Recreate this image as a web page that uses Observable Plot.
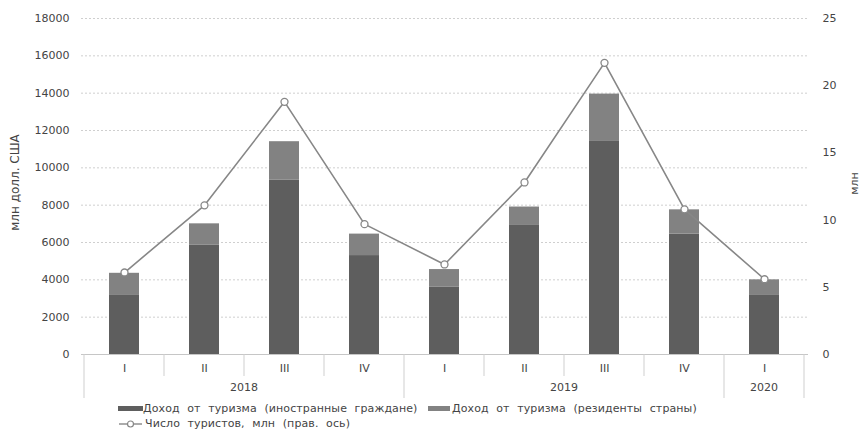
<!DOCTYPE html>
<html>
<head>
<meta charset="utf-8">
<script src="https://cdn.jsdelivr.net/npm/d3@7"></script>
<script src="https://cdn.jsdelivr.net/npm/@observablehq/plot@0.6"></script>
<style>
  body { margin: 0; background: #fff; }
  #chart { position: relative; width: 865px; height: 432px; font-family: "DejaVu Sans", sans-serif; color: #444; }
  .item { position: absolute; font-size: 11px; line-height: 14px; letter-spacing: 0.1px; word-spacing: 4px; white-space: nowrap; }
  .sw { position: absolute; }
</style>
</head>
<body>
<div id="chart"></div>
<script>
// Quarterly tourism income (USD mln) and tourist arrivals (mln)
const years = ["2018", "2018", "2018", "2018", "2019", "2019", "2019", "2019", "2020"];
const quarters = ["I", "II", "III", "IV", "I", "II", "III", "IV", "I"];
const foreignIncome = [3200, 5850, 9350, 5300, 3600, 6950, 11450, 6450, 3200];
const residentIncome = [1150, 1150, 2050, 1150, 950, 950, 2500, 1300, 800];
const tourists = [6.1, 11.1, 18.8, 9.7, 6.7, 12.8, 21.7, 10.8, 5.6];

const leftTicks = [0, 2000, 4000, 6000, 8000, 10000, 12000, 14000, 16000, 18000];
const rightTicks = [0, 5, 10, 15, 20, 25];

const seriesNames = ["Доход от туризма (иностранные граждане)", "Доход от туризма (резиденты страны)"];
const lineName = "Число туристов, млн (прав. ось)";
const leftLabel = "млн долл. США";
const rightLabel = "млн";

const barColors = ["#5e5e5e", "#828282"];
const lineColor = "#878787";

// right axis values are mapped onto the left scale
const k = 18000 / 25;
const keys = years.map((y, i) => y + "-" + quarters[i]);
const bars = keys.flatMap((key, i) => [
  {key, group: "foreign", value: foreignIncome[i]},
  {key, group: "resident", value: residentIncome[i]}
]);
const points = keys.map((key, i) => ({key, value: tourists[i]}));

const chart = Plot.plot({
  width: 865,
  height: 400,
  marginTop: 18,
  marginBottom: 46,
  marginLeft: 81,
  marginRight: 57,
  style: {fontFamily: "DejaVu Sans, sans-serif", fontSize: "11px", color: "#444", background: "#fff"},
  x: {domain: keys, paddingInner: 0.62, paddingOuter: 0.31},
  y: {domain: [0, 18000]},
  color: {domain: ["foreign", "resident"], range: barColors},
  marks: [
    Plot.gridY(leftTicks.slice(1), {stroke: "#cfcfcf", strokeOpacity: 1, strokeDasharray: "2,2"}),
    Plot.barY(bars, {x: "key", y: "value", fill: "group"}),
    Plot.ruleY([0], {stroke: "#c6c6c6"}),
    Plot.axisY(leftTicks, {anchor: "left", tickSize: 0, tickPadding: 12, tickFormat: d => String(d), label: null}),
    Plot.axisY(rightTicks.map(d => d * k), {anchor: "right", tickSize: 0, tickPadding: 14, tickFormat: d => String(Math.round(d / k)), label: null}),
    Plot.axisX({tickSize: 0, tickPadding: 10, tickFormat: d => d.split("-")[1], label: null}),
    Plot.line(points, {x: "key", y: d => d.value * k, stroke: lineColor, strokeWidth: 1.6}),
    Plot.dot(points, {x: "key", y: d => d.value * k, r: 3.5, fill: "white", stroke: lineColor, strokeWidth: 1.3}),
    Plot.text([leftLabel], {text: d => d, frameAnchor: "left", dx: -66, dy: -4, rotate: -90, textAnchor: "middle", fill: "#444", fontSize: 12}),
    Plot.text([rightLabel], {text: d => d, frameAnchor: "right", dx: 46, dy: -3, rotate: -90, textAnchor: "middle", fill: "#444", fontSize: 11})
  ]
});

// two-level category axis: quarter separators and year labels
const xs = chart.scale("x");
const ys = chart.scale("y");
const y0 = ys.apply(0);
const center = key => xs.apply(key) + xs.bandwidth / 2;
const svg = d3.select(chart);
const g = svg.append("g").attr("stroke", "#cfcfcf");
keys.forEach((key, i) => {
  const x = center(key) - xs.step / 2;
  const long = i === 0 || years[i] !== years[i - 1];
  g.append("line").attr("x1", x).attr("x2", x).attr("y1", y0).attr("y2", y0 + (long ? 44 : 22));
});
{
  const x = center(keys[keys.length - 1]) + xs.step / 2;
  g.append("line").attr("x1", x).attr("x2", x).attr("y1", y0).attr("y2", y0 + 44);
}
const yearGroups = d3.groups(keys.map((key, i) => ({key, year: years[i]})), d => d.year);
svg.append("g")
  .attr("font-family", "DejaVu Sans, sans-serif").attr("font-size", 11).attr("fill", "#444")
  .attr("text-anchor", "middle")
  .selectAll("text").data(yearGroups).join("text")
  .attr("x", ([, items]) => d3.mean(items, d => center(d.key)))
  .attr("y", y0 + 33)
  .attr("dy", "0.35em")
  .text(([year]) => year);

const root = document.getElementById("chart");
root.appendChild(chart);

// legend below the plot
function addItem(left, top, text) {
  const el = document.createElement("div");
  el.className = "item";
  el.style.left = left + "px";
  el.style.top = top + "px";
  el.textContent = text;
  root.appendChild(el);
  return el;
}
function swatch(left, top, w, h, color) {
  const el = document.createElement("div");
  el.className = "sw";
  Object.assign(el.style, {left: left + "px", top: top + "px", width: w + "px", height: h + "px", background: color});
  root.appendChild(el);
}
swatch(118, 406, 25, 5, barColors[0]);
addItem(143, 402, seriesNames[0]);
swatch(428, 406, 22, 5, barColors[1]);
addItem(452, 402, seriesNames[1]);
addItem(145, 417, lineName);
const ls = d3.select(root).append("svg")
  .style("position", "absolute").style("left", "118px").style("top", "418px")
  .attr("width", 26).attr("height", 12);
ls.append("line").attr("x1", 1).attr("x2", 24).attr("y1", 6).attr("y2", 6).attr("stroke", lineColor).attr("stroke-width", 1.4);
ls.append("circle").attr("cx", 12.5).attr("cy", 6).attr("r", 3).attr("fill", "white").attr("stroke", lineColor).attr("stroke-width", 1.2);
</script>
</body>
</html>
